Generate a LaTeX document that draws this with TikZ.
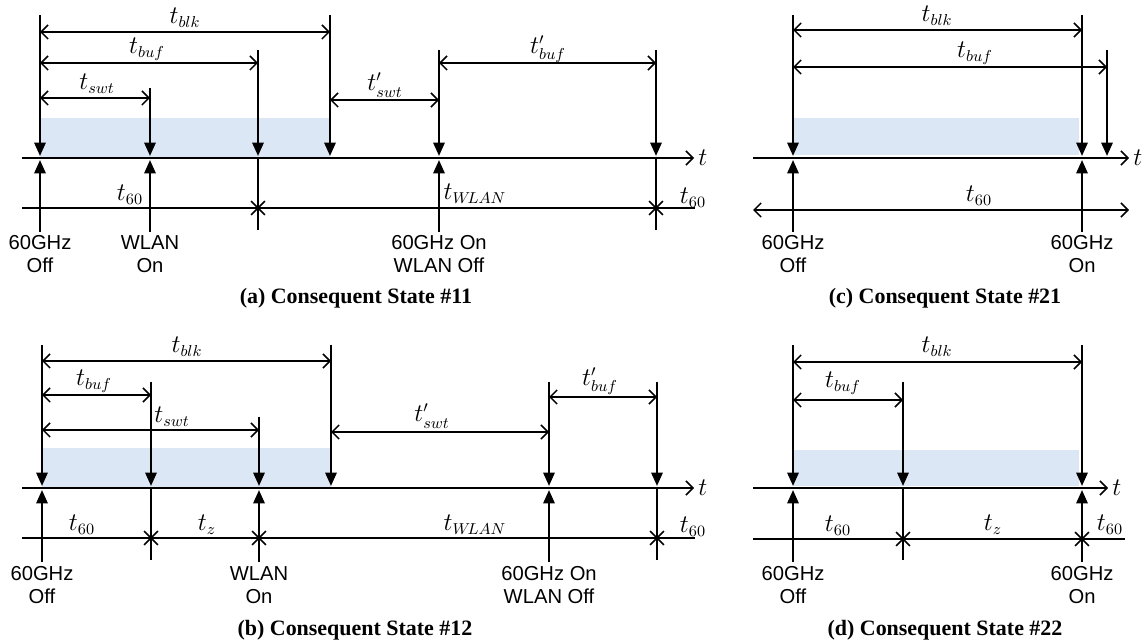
\documentclass[tikz,border=0pt]{standalone}
\usepackage{amsmath, amssymb}
\usepackage{fontspec}
\setmainfont{Liberation Serif}
\setsansfont{Liberation Sans}
\usetikzlibrary{arrows.meta, shapes.misc}
\definecolor{sky}{RGB}{220,231,246}
\tikzset{
    ln/.style={line width=0.85pt},
    ev/.style={ln, -{Triangle[length=7.5pt,width=6.5pt]}, shorten >=1.2pt},
    dim/.style={ln, {Straight Barb[length=4pt,width=8pt]}-{Straight Barb[length=4pt,width=8pt]}},
    ax/.style={ln, -{Straight Barb[length=4pt,width=8pt]}},
    tl/.style={font=\fontsize{13.5}{15}\selectfont, inner sep=0pt},
    lbl/.style={font=\sffamily\fontsize{11.5}{13}\selectfont, align=center},
    captext/.style={font=\bfseries\fontsize{12.5}{15}\selectfont},
    xmark/.style={draw, cross out, ln, minimum size=7pt, inner sep=0pt},
}

\begin{document}
\begin{tikzpicture}[x=0.02cm, y=-0.02cm]
    \useasboundingbox (0,0) rectangle (1145,644);

    % (a)
    \fill[sky] (40,118) rectangle (330,157);
    \draw[ax] (22,158) -- (694,158) node[right, tl, inner sep=2pt] (a-t) {$t$};
    \draw[ln] (22,208) -- (695,208);
    \draw[ev] (40,15) -- (40,158);
    \draw[ev] (150,88) -- (150,158);
    \draw[ev] (258,50) -- (258,158);
    \draw[ev] (330,15) -- (330,158);
    \draw[ev] (439,50) -- (439,158);
    \draw[ev] (656,50) -- (656,158);
    \draw[ev] (40,232) -- (40,158);
    \draw[ev] (150,232) -- (150,158);
    \draw[ev] (439,232) -- (439,158);
    \draw[ln] (258,158) -- (258,230);
    \draw[ln] (656,158) -- (656,230);
    \node[xmark] (a-x1) at (258,208) {};
    \node[xmark] (a-x2) at (656,208) {};
    \draw[dim] (40,32) -- (330,32);
    \draw[dim] (40,63) -- (258,63);
    \draw[dim] (40,98) -- (150,98);
    \draw[dim] (330,100) -- (439,100);
    \draw[dim] (439,63) -- (656,63);
    \node[tl] (a-blk) at (185,18) {$t_{blk}$};
    \node[tl] (a-buf) at (147,49) {$t_{buf}$};
    \node[tl] (a-swt) at (97,84) {$t_{swt}$};
    \node[tl] (a-swt2) at (385,85) {$t'_{swt}$};
    \node[tl] (a-buf2) at (548,49) {$t'_{buf}$};
    \node[tl] (a-60) at (130,195) {$t_{60}$};
    \node[tl] (a-wlan) at (475,194) {$t_{W\!LAN}$};
    \node[tl] (a-60b) at (693,198) {$t_{60}$};
    \node[lbl] (a-off) at (40,254) {60GHz\\Off};
    \node[lbl] (a-on) at (150,254) {WLAN\\On};
    \node[lbl] (a-sw) at (439,254) {60GHz On\\WLAN Off};
    \node[captext] (a-cap) at (356,298) {(a) Consequent State \#11};

    % (b)
    \fill[sky] (42,448) rectangle (331,487);
    \draw[ax] (22,488) -- (694,488) node[right, tl, inner sep=2pt] (b-t) {$t$};
    \draw[ln] (22,538) -- (695,538);
    \draw[ev] (42,345) -- (42,488);
    \draw[ev] (151,382) -- (151,488);
    \draw[ev] (259,417) -- (259,488);
    \draw[ev] (331,345) -- (331,488);
    \draw[ev] (549,382) -- (549,488);
    \draw[ev] (657,382) -- (657,488);
    \draw[ev] (42,562) -- (42,488);
    \draw[ev] (259,562) -- (259,488);
    \draw[ev] (549,562) -- (549,488);
    \draw[ln] (151,488) -- (151,560);
    \draw[ln] (657,488) -- (657,560);
    \node[xmark] (b-x1) at (151,538) {};
    \node[xmark] (b-x2) at (259,538) {};
    \node[xmark] (b-x3) at (657,538) {};
    \draw[dim] (42,361) -- (331,361);
    \draw[dim] (42,395) -- (151,395);
    \draw[dim] (42,430) -- (259,430);
    \draw[dim] (331,432) -- (549,432);
    \draw[dim] (549,397) -- (657,397);
    \node[tl] (b-blk) at (187,347) {$t_{blk}$};
    \node[tl] (b-buf) at (94,381) {$t_{buf}$};
    \node[tl] (b-swt) at (172,417) {$t_{swt}$};
    \node[tl] (b-swt2) at (432,416) {$t'_{swt}$};
    \node[tl] (b-buf2) at (600,381) {$t'_{buf}$};
    \node[tl] (b-60) at (82,525) {$t_{60}$};
    \node[tl] (b-z) at (207,525) {$t_z$};
    \node[tl] (b-wlan) at (475,525) {$t_{W\!LAN}$};
    \node[tl] (b-60b) at (693,527) {$t_{60}$};
    \node[lbl] (b-off) at (42,585) {60GHz\\Off};
    \node[lbl] (b-on) at (259,585) {WLAN\\On};
    \node[lbl] (b-sw) at (549,585) {60GHz On\\WLAN Off};
    \node[captext] (b-cap) at (355,630) {(b) Consequent State \#12};

    % (c)
    \fill[sky] (793,118) rectangle (1079,155);
    \draw[ax] (753,158) -- (1129,158) node[right, tl, inner sep=2pt] (c-t) {$t$};
    \draw[dim] (753,210) -- (1129,210);
    \draw[ev] (793,15) -- (793,158);
    \draw[ev] (1082,15) -- (1082,158);
    \draw[ev] (1107,50) -- (1107,158);
    \draw[ev] (793,232) -- (793,158);
    \draw[ev] (1082,232) -- (1082,158);
    \draw[dim] (793,30) -- (1082,30);
    \draw[dim] (793,67) -- (1107,67);
    \node[tl] (c-blk) at (937,16) {$t_{blk}$};
    \node[tl] (c-buf) at (975,53) {$t_{buf}$};
    \node[tl] (c-60) at (979,196) {$t_{60}$};
    \node[lbl] (c-off) at (793,254) {60GHz\\Off};
    \node[lbl] (c-on) at (1082,254) {60GHz\\On};
    \node[captext] (c-cap) at (945,298) {(c) Consequent State \#21};

    % (d)
    \fill[sky] (793,450) rectangle (1079,486);
    \draw[ax] (753,488) -- (1108,488) node[right, tl, inner sep=2pt] (d-t) {$t$};
    \draw[ln] (753,539) -- (1125,539);
    \draw[ev] (793,345) -- (793,488);
    \draw[ev] (903,382) -- (903,488);
    \draw[ev] (1082,345) -- (1082,488);
    \draw[ev] (793,562) -- (793,488);
    \draw[ev] (1082,562) -- (1082,488);
    \draw[ln] (903,488) -- (903,560);
    \node[xmark] (d-x1) at (903,539) {};
    \node[xmark] (d-x2) at (1082,539) {};
    \draw[dim] (793,362) -- (1082,362);
    \draw[dim] (793,400) -- (903,400);
    \node[tl] (d-blk) at (937,347) {$t_{blk}$};
    \node[tl] (d-buf) at (843,383) {$t_{buf}$};
    \node[tl] (d-60) at (838,526) {$t_{60}$};
    \node[tl] (d-z) at (993,525) {$t_z$};
    \node[tl] (d-60b) at (1110,525) {$t_{60}$};
    \node[lbl] (d-off) at (793,585) {60GHz\\Off};
    \node[lbl] (d-on) at (1082,585) {60GHz\\On};
    \node[captext] (d-cap) at (945,630) {(d) Consequent State \#22};
\end{tikzpicture}
\end{document}
